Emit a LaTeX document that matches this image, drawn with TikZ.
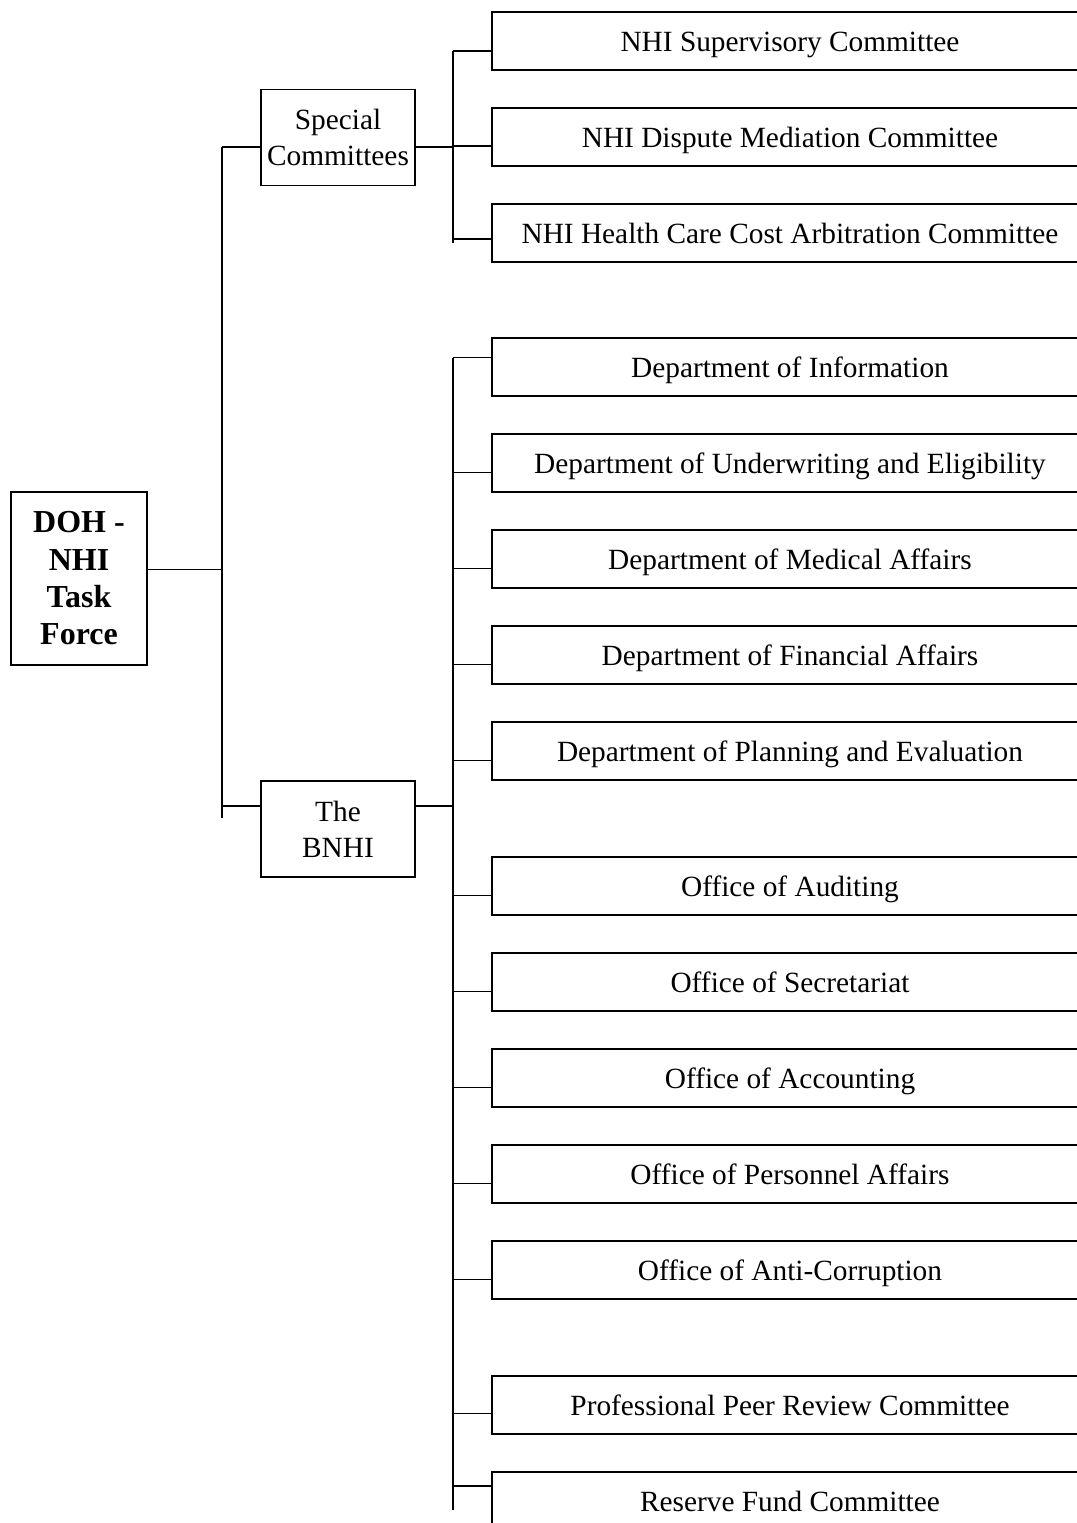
\documentclass[tikz,border=0pt]{standalone}
\usepackage{fontspec}
\setmainfont{Liberation Serif}
\usetikzlibrary{positioning}

\begin{document}
\begin{tikzpicture}[
  x=0.75pt, y=-0.75pt,
  unit box/.style={draw, line width=1.5pt, minimum width=447pt, minimum height=43.5pt,
    inner sep=0pt, anchor=west, text height=18pt, text depth=2pt,
    font=\fontsize{22}{26}\selectfont},
  group box/.style={draw, line width=0.9pt, minimum width=115.5pt, minimum height=72pt,
    inner sep=0pt, align=center, font=\fontsize{22}{27}\selectfont},
  link/.style={line width=1.1pt}
]
  \useasboundingbox (0,0) rectangle (1077,1523);

  % head of the chart and its two branches
  \node[draw, line width=1.5pt, minimum width=102pt, minimum height=129.75pt,
    inner sep=0pt, align=center, font=\bfseries\fontsize{24}{28}\selectfont]
    (doh) at (79,578.5) {DOH -\\NHI\\Task\\Force};
  \node[group box] (special) at (338,137.5) {Special\\Committees};
  \node[group box] (bnhi) at (338,829) {The\\BNHI};

  % main spine
  \coordinate (spine top) at (222,147);
  \coordinate (spine bot) at (222,818);
  \coordinate (doh out) at ([yshift=7.1pt]doh.east);
  \coordinate (special in) at ([yshift=-7.1pt]special.west);
  \coordinate (bnhi in) at ([yshift=17.25pt]bnhi.west);
  \draw[link] (spine top) -- (spine bot);
  \draw[line width=0.8pt] (doh out) -- (doh out -| spine top);
  \draw[link] (special in) -- (special in -| spine top);
  \draw[link] (bnhi in) -- (bnhi in -| spine top);

  % special committees
  \coordinate (rail a top) at (453,51);
  \coordinate (rail a bot) at (453,243);
  \coordinate (special out) at ([yshift=-7.1pt]special.east);
  \draw[link] (rail a top) -- (rail a bot);
  \draw[link] (special out) -- (special out -| rail a top);
  \foreach \name/\top/\dy/\txt in {
      sup/12/-7.5/NHI Supervisory Committee,
      dispute/108/-6.75/NHI Dispute Mediation Committee,
      cost/204/-4.5/NHI Health Care Cost Arbitration Committee} {
    \node[unit box] (\name) at (491,\top+29) {\txt};
    \coordinate (\name tick) at ([yshift=\dy pt]\name.west);
    \draw[link] (\name tick) -- (\name tick -| rail a top);
  }

  % units of the BNHI
  \coordinate (rail b top) at (453,358);
  \coordinate (rail b bot) at (453,1510);
  \coordinate (bnhi out) at ([yshift=17.25pt]bnhi.east);
  \draw[link] (rail b top) -- (rail b bot);
  \draw[link] (bnhi out) -- (bnhi out -| rail b top);
  \foreach \name/\top/\dy/\txt in {
      info/338/7.1/Department of Information,
      underwriting/434/-7.1/Department of Underwriting and Eligibility,
      medical/530/-7.1/Department of Medical Affairs,
      financial/626/-7.1/Department of Financial Affairs,
      planning/722/-7.1/Department of Planning and Evaluation,
      auditing/857/-7.1/Office of Auditing,
      secretariat/953/-7.1/Office of Secretariat,
      accounting/1049/-7.1/Office of Accounting,
      personnel/1145/-7.1/Office of Personnel Affairs,
      anticorruption/1241/-7.1/Office of Anti-Corruption,
      peer/1376/-6.4/Professional Peer Review Committee,
      reserve/1472/11.25/Reserve Fund Committee} {
    \node[unit box] (\name) at (491,\top+29) {\txt};
    \coordinate (\name tick) at ([yshift=\dy pt]\name.west);
    \draw[link] (\name tick) -- (\name tick -| rail b top);
  }
\end{tikzpicture}
\end{document}
